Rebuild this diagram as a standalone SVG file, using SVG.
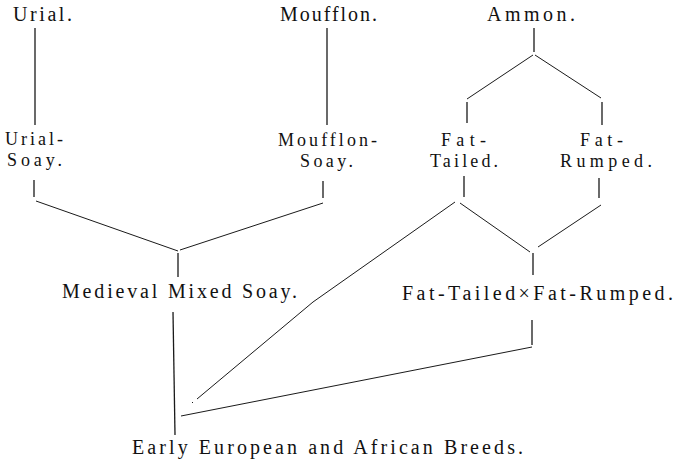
<svg xmlns="http://www.w3.org/2000/svg" width="683" height="465" viewBox="0 0 683 465" font-family="'Liberation Serif', 'Times New Roman', 'DejaVu Serif', 'Nimbus Roman', FreeSerif, serif">
<style>
  text { font-size: 20px; fill: #111; }
  .two { font-size: 18px; }
  .c line, .c polyline { stroke: #1a1a1a; stroke-width: 1.3; fill: none; stroke-linecap: butt; }
  .c .thin { stroke-width: 1; }
</style>
<rect width="683" height="465" fill="#ffffff"/>
<g id="connectors" class="c">
  <line x1="35" y1="28" x2="35" y2="125"/>
  <line x1="327" y1="28" x2="327" y2="125"/>
  <line x1="534" y1="28" x2="534" y2="52"/>
  <line class="thin" x1="533" y1="55" x2="467" y2="99"/>
  <line class="thin" x1="535" y1="55" x2="601" y2="98"/>
  <line x1="467" y1="102" x2="467" y2="123"/>
  <line x1="602" y1="102" x2="602" y2="125"/>
  <line x1="34" y1="180" x2="34" y2="197"/>
  <line x1="323" y1="181" x2="323" y2="198"/>
  <line x1="464" y1="176" x2="464" y2="197"/>
  <line x1="599" y1="178" x2="599" y2="198"/>
  <line class="thin" x1="36" y1="201" x2="178" y2="251"/>
  <line class="thin" x1="323" y1="203" x2="180" y2="250"/>
  <line x1="178" y1="253" x2="178" y2="277"/>
  <line class="thin" x1="460" y1="203" x2="530" y2="252"/>
  <line class="thin" x1="601" y1="205" x2="538" y2="247"/>
  <line x1="533" y1="253" x2="533" y2="275"/>
  <polyline class="thin" points="455,202 313,302 197,399"/>
  <line class="thin" x1="192" y1="403" x2="193" y2="402"/>
  <line x1="173" y1="312" x2="175" y2="435"/>
  <line x1="532" y1="320" x2="532" y2="345"/>
  <line class="thin" x1="532" y1="347" x2="181" y2="416"/>
</g>
<g id="urial"><text x="13" y="21" textLength="59" lengthAdjust="spacing">Urial.</text></g>
<g id="moufflon"><text x="280" y="21" textLength="97" lengthAdjust="spacing">Moufflon.</text></g>
<g id="ammon"><text x="487" y="21" textLength="88" lengthAdjust="spacing">Ammon.</text></g>
<g id="urial-soay">
  <text class="two" x="5" y="145" textLength="58" lengthAdjust="spacing">Urial-</text>
  <text class="two" x="7" y="166" textLength="55" lengthAdjust="spacing">Soay.</text>
</g>
<g id="moufflon-soay">
  <text class="two" x="278" y="146" textLength="99" lengthAdjust="spacing">Moufflon-</text>
  <text class="two" x="300" y="167" textLength="53" lengthAdjust="spacing">Soay.</text>
</g>
<g id="fat-tailed">
  <text class="two" x="441" y="146" textLength="45" lengthAdjust="spacing">Fat-</text>
  <text class="two" x="430" y="167" textLength="68" lengthAdjust="spacing">Tailed.</text>
</g>
<g id="fat-rumped">
  <text class="two" x="580" y="146" textLength="43" lengthAdjust="spacing">Fat-</text>
  <text class="two" x="560" y="167" textLength="92" lengthAdjust="spacing">Rumped.</text>
</g>
<g id="medieval-mixed-soay"><text x="62" y="298" textLength="235" lengthAdjust="spacing">Medieval Mixed Soay.</text></g>
<g id="fat-tailed-x-fat-rumped"><text x="402" y="300" textLength="271" lengthAdjust="spacing">Fat-Tailed×Fat-Rumped.</text></g>
<g id="early-breeds"><text x="132" y="454" textLength="391" lengthAdjust="spacing">Early European and African Breeds.</text></g>
</svg>
